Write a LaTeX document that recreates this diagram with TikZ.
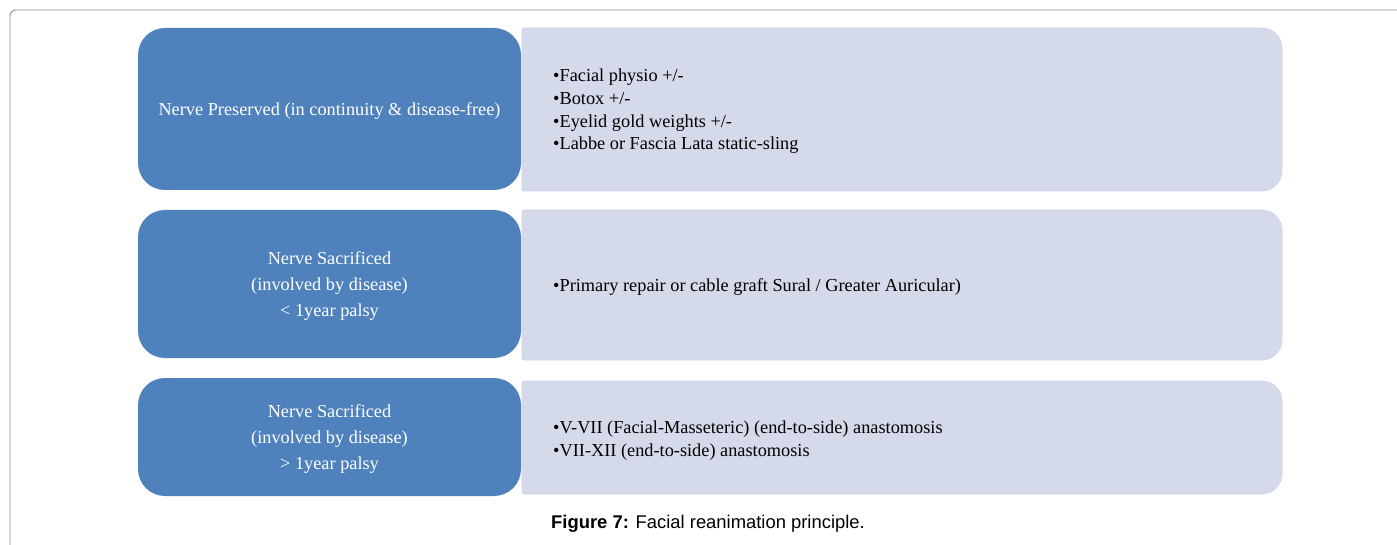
\documentclass[tikz,border=0pt]{standalone}
\usepackage{fontspec}
\setmainfont{Liberation Serif}
\newfontfamily\capfont{Liberation Sans}
\definecolor{blueBox}{HTML}{4F81BD}
\definecolor{lightBox}{HTML}{D4DAEA}
\definecolor{lightEdge}{HTML}{CDD4E6}
\definecolor{frameGray}{HTML}{8C8C8C}
\tikzset{
  bluebox/.style={rectangle, rounded corners=27pt, fill=blueBox, text=white, align=center,
    minimum width=383pt, inner sep=0pt, font=\fontsize{18.3}{26}\selectfont},
  lightfill/.style={fill=lightBox, draw=lightEdge, line width=0.6pt},
  bullets/.style={anchor=west, align=left, inner sep=0pt, font=\fontsize{18.3}{22.6}\selectfont},
}
\begin{document}
\begin{tikzpicture}[x=1pt,y=-1pt]
\useasboundingbox (0,0) rectangle (1397,545);
% frame
\draw[frameGray, line width=0.9pt, rounded corners=6pt] (10,545) -- (10,10) -- (1397,10);
% light boxes
\fill[lightfill] (522,191) [rounded corners=2pt] -- (522,28) [rounded corners=20pt] -- (1282,28) -- (1282,191) [rounded corners=2pt] -- cycle;
\fill[lightfill] (522,360) [rounded corners=2pt] -- (522,210) [rounded corners=20pt] -- (1282,210) -- (1282,360) [rounded corners=2pt] -- cycle;
\fill[lightfill] (522,494) [rounded corners=2pt] -- (522,381) [rounded corners=20pt] -- (1282,381) -- (1282,494) [rounded corners=2pt] -- cycle;
% blue boxes
\node[bluebox, minimum height=162pt] (b1) at (329.5,109) {};
\node[bluebox, minimum height=148pt] (b2) at (329.5,284) {};
\node[bluebox, minimum height=118pt] (b3) at (329.5,437) {};
\node[bluebox, fill=none, minimum height=0pt, minimum width=0pt] (l1) at (329.5,111) {Nerve Preserved (in continuity \& disease-free)};
\node[bluebox, fill=none, minimum height=0pt, minimum width=0pt] (l2) at (329.5,286) {Nerve Sacrificed\\(involved by disease)\\< 1year palsy};
\node[bluebox, fill=none, minimum height=0pt, minimum width=0pt] (l3) at (329.5,439) {Nerve Sacrificed\\(involved by disease)\\> 1year palsy};
% bullet texts
\node[bullets] (t1) at (553,111.5) {\textbullet Facial physio +/-\\\textbullet Botox +/-\\\textbullet Eyelid gold weights +/-\\\textbullet Labbe or Fascia Lata static-sling};
\node[bullets] (t2) at (553,287) {\textbullet Primary repair or cable graft Sural / Greater Auricular)};
\node[bullets] (t3) at (553,440.5) {\textbullet V-VII (Facial-Masseteric) (end-to-side) anastomosis\\\textbullet VII-XII (end-to-side) anastomosis};
% caption
\node[font=\capfont\fontsize{18.4}{20}\selectfont, inner sep=0pt] (cap) at (708,524) {\textbf{Figure 7:} Facial reanimation principle.};
\end{tikzpicture}
\end{document}
